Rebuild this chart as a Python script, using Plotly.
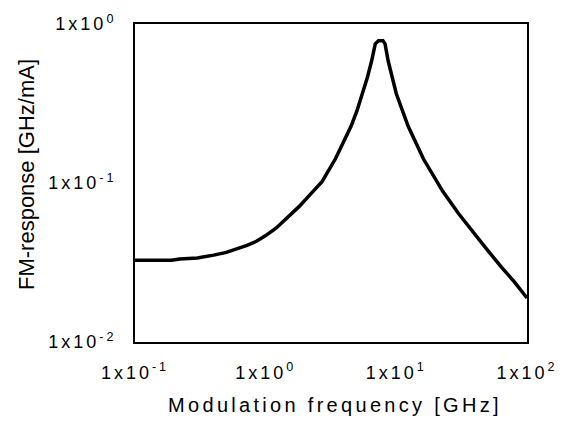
import plotly.graph_objects as go

freq = [0.1, 0.19, 0.22, 0.3, 0.4, 0.5, 0.6, 0.72, 0.85, 1.0, 1.2, 1.41, 1.8, 2.26, 2.7, 3.42,
        4.06, 4.51, 5.0, 5.5, 6.0, 6.46, 6.9, 7.3, 7.9, 8.2, 8.67, 10.0, 12.3, 16.1, 22.6, 30,
        39.9, 50, 63.7, 80, 100]
resp = [0.0327, 0.0327, 0.0333, 0.0338, 0.0352, 0.0366, 0.0385, 0.0405, 0.043, 0.0467, 0.052,
        0.059, 0.071, 0.087, 0.102, 0.142, 0.189, 0.228, 0.285, 0.364, 0.46, 0.583, 0.75, 0.785,
        0.785, 0.75, 0.583, 0.364, 0.228, 0.142, 0.089, 0.064, 0.0473, 0.0377, 0.0296, 0.0239,
        0.0189]

x_ticks = [0.1, 1, 10, 100]
x_labels = ["1x10<sup>-1</sup>", "1x10<sup>0</sup>", "1x10<sup>1</sup>", "1x10<sup>2</sup>"]
y_ticks = [0.01, 0.1, 1]
y_labels = ["1x10<sup>-2</sup>", "1x10<sup>-1</sup>", "1x10<sup>0</sup>"]
minor_mult = [2, 3, 4, 5, 6, 7, 8, 9]
x_decades = [0.1, 1, 10]
y_decades = [0.01, 0.1]
x_title = "Modulation frequency [GHz]"
y_title = "FM-response [GHz/mA]"

x_minor_vals = [m * d for d in x_decades for m in minor_mult]
y_minor_vals = [m * d for d in y_decades for m in minor_mult]

W, H = 562, 424
ML, MR, MT, MB = 135, 33, 15, 82
PW, PH = W - ML - MR, H - MT - MB   # plot area size in px (used for pixel-unit helper axes)

FAM = "Liberation Sans, Arial, sans-serif"
tickfont = dict(family=FAM, size=18, color="black")

fig = go.Figure()
fig.add_trace(go.Scatter(x=freq, y=resp, mode="lines", line=dict(color="black", width=3.5),
                         showlegend=False, hoverinfo="skip"))

# tick marks: line markers placed at the tick values on the log axes, offset in pixel units
def tick_trace(vals, length, horizontal_axis):
    if horizontal_axis:
        return go.Scatter(x=vals, y=[-length / 2] * len(vals), xaxis="x", yaxis="y2",
                          mode="markers", cliponaxis=False, showlegend=False, hoverinfo="skip",
                          marker=dict(symbol="line-ns", size=length,
                                      line=dict(width=2, color="black")))
    return go.Scatter(x=[-length / 2] * len(vals), y=vals, xaxis="x2", yaxis="y",
                      mode="markers", cliponaxis=False, showlegend=False, hoverinfo="skip",
                      marker=dict(symbol="line-ew", size=length,
                                  line=dict(width=2, color="black")))

fig.add_trace(tick_trace(x_ticks, 11, True))
fig.add_trace(tick_trace(x_minor_vals, 5, True))
fig.add_trace(tick_trace(y_ticks, 13, False))
fig.add_trace(tick_trace(y_minor_vals, 6, False))

fig.update_layout(
    width=W, height=H,
    margin=dict(l=ML, r=MR, t=MT, b=MB),
    paper_bgcolor="white", plot_bgcolor="white",
    font=dict(family=FAM, size=18, color="black"),
    xaxis=dict(type="log", range=[-1, 2], tickmode="array", tickvals=x_ticks, ticktext=x_labels,
               ticks="", showline=True, linewidth=2, linecolor="black", mirror=True,
               showgrid=False, zeroline=False, tickfont=tickfont, ticklabelstandoff=13),
    yaxis=dict(type="log", range=[-2, 0], tickmode="array", tickvals=y_ticks, ticktext=y_labels,
               ticks="", showline=True, linewidth=2, linecolor="black", mirror=True,
               showgrid=False, zeroline=False, tickfont=tickfont, ticklabelstandoff=13),
    xaxis2=dict(overlaying="x", range=[0, PW], visible=False, anchor="y"),
    yaxis2=dict(overlaying="y", range=[0, PH], visible=False, anchor="x"),
    annotations=[
        dict(text=x_title, xref="paper", yref="paper", x=0.5, y=0, xanchor="center",
             yanchor="middle", xshift=4, yshift=-63, showarrow=False,
             font=dict(family=FAM, size=20, color="black")),
        dict(text=y_title, xref="paper", yref="paper", x=0, y=0.5, xanchor="center",
             yanchor="middle", xshift=-109, yshift=8, textangle=-90, showarrow=False,
             font=dict(family=FAM, size=22, color="black")),
    ],
)

post = """
var gd = document.getElementById('{plot_id}');
function fixSpacing(){
  gd.querySelectorAll('.xtick text, .ytick text').forEach(function(t){ t.style.letterSpacing = '3px'; });
  var an = gd.querySelectorAll('.annotation-text');
  if (an.length) { an[0].style.letterSpacing = '3.3px'; }
}
fixSpacing();
if (gd.on) { gd.on('plotly_afterplot', fixSpacing); }
"""
fig.write_html("out.html", post_script=post)
